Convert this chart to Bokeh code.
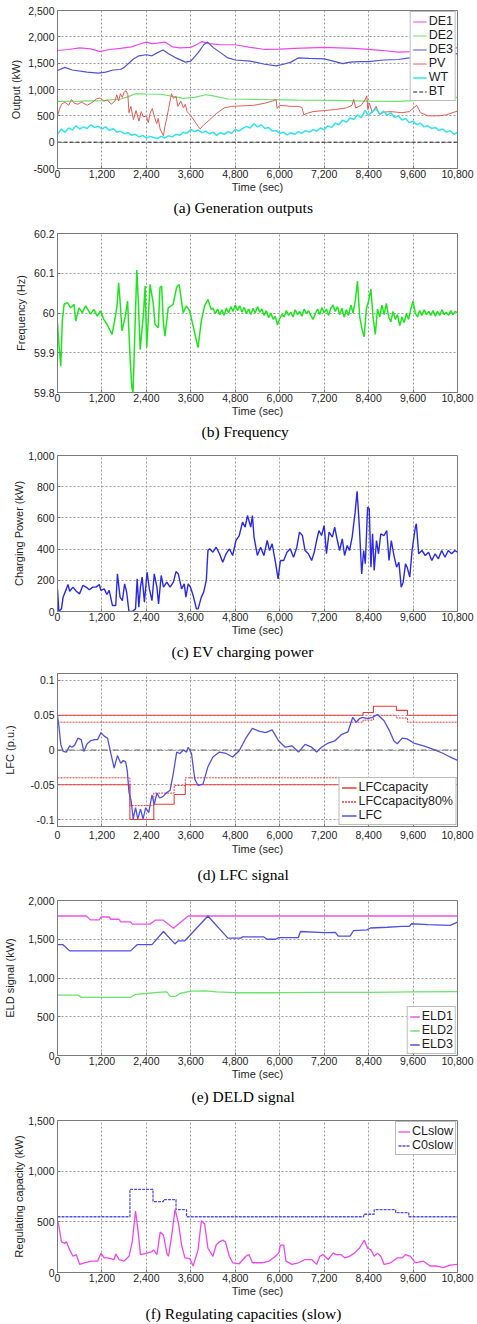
from bokeh.plotting import figure
from bokeh.layouts import column
from bokeh.models import FixedTicker, NumeralTickFormatter, Title, Range1d, Span
from bokeh.embed import file_html
from bokeh.resources import INLINE

# ---------------- data ----------------
X_TICKS = [0, 1200, 2400, 3600, 4800, 6000, 7200, 8400, 9600, 10800]

# (a) generation outputs
DE1_T = [0, 300, 600, 900, 1150, 1400, 1700, 2000, 2200, 2400, 2550, 2700, 2900, 3100, 3300, 3600, 3750, 3900, 4100,
         4400, 4800, 5200, 5600, 6000, 6400, 6800, 7200, 7600, 8000, 8400, 8800, 9200, 9600, 9900, 10200, 10500, 10800]
DE1_V = [1740, 1760, 1790, 1770, 1720, 1760, 1780, 1810, 1860, 1900, 1870, 1880, 1900, 1810, 1790, 1800, 1850, 1910,
         1870, 1850, 1850, 1800, 1760, 1765, 1780, 1790, 1800, 1790, 1780, 1760, 1740, 1710, 1720, 1760, 1780, 1780, 1790]
DE2_T = [0, 600, 1200, 1700, 1900, 2100, 2400, 2800, 3100, 3400, 3700, 4000, 4200, 4600, 5500, 6500, 7500, 8400, 9200,
         9600, 10200, 10800]
DE2_V = [775, 780, 790, 820, 860, 920, 915, 910, 870, 830, 850, 900, 880, 820, 810, 800, 795, 780, 775, 790, 810, 850]
DE3_T = [0, 200, 400, 800, 1100, 1300, 1500, 1700, 1800, 2050, 2200, 2400, 2550, 2700, 2850, 3000, 3200, 3450, 3600,
         3800, 3950, 4050, 4200, 4400, 4600, 4800, 5200, 5600, 5900, 6100, 6300, 6500, 6800, 7200, 7500, 7700, 7900,
         8200, 8400, 8800, 9200, 9500, 9700, 10000, 10500, 10800]
DE3_V = [1360, 1420, 1370, 1330, 1310, 1330, 1370, 1380, 1420, 1580, 1640, 1660, 1640, 1700, 1750, 1680, 1600, 1520,
         1540, 1700, 1850, 1900, 1800, 1700, 1600, 1560, 1540, 1480, 1450, 1480, 1520, 1600, 1590, 1580, 1530, 1490,
         1520, 1530, 1530, 1560, 1570, 1600, 1630, 1640, 1660, 1680]
PV_T = [0, 50, 110, 200, 300, 380, 450, 550, 650, 800, 950, 1050, 1150, 1250, 1350, 1450, 1550, 1600, 1650, 1700,
        1750, 1800, 1850, 1900, 1930, 1980, 2050, 2120, 2200, 2260, 2320, 2400, 2450, 2500, 2560, 2620, 2680, 2720,
        2770, 2820, 2860, 2900, 2950, 3000, 3040, 3080, 3130, 3200, 3250, 3330, 3400, 3450, 3500, 3600, 3700, 3800,
        3850, 3950, 4100, 4300, 4500, 4700, 5000, 5300, 5600, 5800, 5900, 5930, 6000, 6300, 6500, 6600, 6650, 6750,
        6900, 7200, 7500, 7800, 7950, 8000, 8050, 8200, 8300, 8350, 8380, 8420, 8500, 8600, 8700, 8800, 9000, 9300,
        9500, 9600, 9700, 9800, 10000, 10300, 10500, 10800]
PV_V = [500, 620, 720, 760, 700, 810, 740, 720, 760, 700, 760, 820, 840, 780, 800, 720, 780, 900, 780, 920,
        850, 950, 980, 900, 560, 680, 430, 600, 400, 580, 480, 500, 370, 550, 640, 470, 350, 450, 250, 180,
        120, 300, 450, 640, 780, 920, 830, 870, 680, 780, 650, 720, 580, 500, 400, 300, 250, 330, 420, 550,
        650, 680, 690, 700, 740, 780, 810, 640, 700, 680, 680, 660, 520, 550, 580, 600, 620, 650, 700, 810,
        650, 700, 800, 880, 620, 740, 560, 680, 520, 570, 580, 560, 580, 640, 700, 560, 500, 500, 520, 590]
WT_T = list(range(0, 10801, 100))
WT_V = [150, 250, 190, 270, 230, 310, 250, 290, 260, 330, 280,
        300, 250, 290, 220, 260, 190, 210, 160, 180, 130,
        150, 100, 130, 80, 110, 90, 70, 110, 80, 120,
        100, 150, 130, 190, 170, 240, 200, 230, 180, 210,
        160, 190, 130, 180, 150, 200, 170, 240, 210, 260,
        300, 270, 350, 290, 330, 260, 280, 210, 220, 170,
        190, 140, 180, 150, 200, 170, 220, 190, 240, 210,
        270, 240, 310, 280, 360, 330, 420, 380, 460, 430,
        520, 460, 600, 510, 580, 640, 530, 590, 510, 560,
        470, 500, 420, 450, 370, 400, 330, 360, 290, 310,
        260, 280, 220, 250, 190, 220, 150, 180]
BT_T = [0, 10800]
BT_V = [0, 0]

# (b) frequency
FREQ_T_EARLY = [0, 30, 89, 130, 179, 268, 357, 446, 491, 580, 669, 759, 893, 982, 1071, 1160, 1250, 1339, 1473, 1560,
                1607, 1651, 1696, 1741, 1830, 1892, 1964, 2008, 2040, 2098, 2142, 2187, 2232, 2321, 2365, 2410, 2499,
                2589, 2633, 2722, 2767, 2812, 2856, 2901, 2990, 3124, 3214, 3285, 3392, 3481, 3570, 3704, 3794, 3883,
                3972, 4061, 4151]
FREQ_V_EARLY = [59.976, 59.93, 59.866, 59.98, 60.022, 60.026, 60.013, 60.022, 59.980, 60.013,
                60.001, 60.018, 59.997, 60.009, 59.992, 60.005, 59.984, 59.971, 59.946, 59.99,
                60.018, 60.076, 60.022, 59.955, 59.992, 60.030, 59.879, 59.812, 59.80, 59.980,
                60.108, 60.022, 59.908, 59.997, 60.068, 59.913, 60.072, 60.022, 59.971, 59.963,
                60.064, 60.068, 59.980, 59.942, 60.013, 60.022, 60.064, 60.072, 60.001, 60.018,
                60.005, 59.950, 59.913, 59.980, 60.018, 60.034, 60.009]
FREQ_T_LATE = list(range(4200, 10801, 60))
FREQ_V_LATE = [60.012, 59.998, 60.010, 59.996, 60.008, 59.994, 60.012, 60.000, 60.016, 60.004, 60.020,
               60.006, 60.018, 60.002, 60.014, 59.998, 60.010, 59.996, 60.012, 60.000, 60.016, 60.002,
               60.010, 59.994, 60.006, 59.988, 60.000, 59.984, 59.992, 59.970, 59.986, 59.996, 59.990,
               60.006, 59.994, 60.002, 59.990, 60.008, 59.996, 60.004, 59.992, 60.010, 59.998, 60.006,
               59.994, 59.984, 59.998, 60.010, 59.996, 60.014, 60.000, 60.010, 59.994, 60.012, 60.020,
               60.004, 60.016, 59.996, 60.012, 59.990, 60.008, 59.994, 60.020, 60.000, 60.030, 60.080,
               59.990, 59.960, 59.940, 60.010, 60.030, 60.060, 59.990, 59.946, 60.010, 59.990, 60.020,
               59.996, 60.024, 59.990, 59.978, 60.004, 59.984, 59.996, 59.968, 59.990, 59.976, 59.998,
               59.984, 60.010, 60.030, 60.000, 59.990, 60.006, 59.994, 60.008, 59.996, 60.004, 59.994,
               60.006, 59.992, 60.004, 59.994, 60.008, 59.996, 60.002, 59.994, 60.006, 59.996, 60.004,
               60.000]

# (c) EV charging power
EV_T = [0, 36, 107, 151, 240, 284, 329, 418, 507, 596, 684, 773, 862, 951, 1040, 1129, 1173, 1262, 1333, 1396,
        1484, 1573, 1618, 1689, 1751, 1813, 1867, 1929, 2018, 2107, 2151, 2196, 2240, 2285, 2347, 2418, 2480, 2551,
        2613, 2684, 2729, 2800, 2862, 2951, 3040, 3129, 3200, 3262, 3351, 3422, 3467, 3529, 3591, 3662, 3751, 3796,
        3884, 3947, 4018, 4062, 4107, 4196, 4284, 4373, 4462, 4551, 4640, 4729, 4818, 4907, 4996, 5067, 5129, 5218,
        5262, 5307, 5396, 5484, 5573, 5662, 5724, 5796, 5884, 5956, 6018, 6107, 6196, 6284, 6373, 6462, 6533, 6613,
        6684, 6773, 6862, 6933, 6996, 7058, 7129, 7200, 7262, 7333, 7422, 7484, 7556, 7618, 7689, 7751, 7822, 7884,
        7956, 8036, 8089, 8151, 8213, 8267, 8311, 8373, 8418, 8462, 8507, 8551, 8613, 8667, 8729, 8818, 8889, 8951,
        9013, 9084, 9156, 9218, 9280, 9333, 9396, 9440, 9511, 9573, 9662, 9689, 9751, 9840, 9929, 10018, 10107,
        10196, 10284, 10373, 10462, 10551, 10640, 10729, 10800]
EV_V = [145, 0, 17, 92, 145, 173, 130, 156, 130, 113, 167, 156, 139, 156, 156, 173, 135, 145, 109, 135,
        38, 38, 241, 92, 70, 177, 124, 0, 0, 17, 209, 28, 156, 220, 60, 252, 145, 70, 241, 156,
        49, 231, 156, 188, 156, 188, 256, 241, 145, 177, 92, 177, 156, 103, 17, 17, 92, 124, 199, 391,
        402, 380, 412, 370, 316, 370, 402, 359, 455, 487, 573, 541, 615, 541, 615, 477, 359, 412, 359, 455,
        391, 434, 316, 209, 327, 327, 380, 402, 348, 412, 509, 487, 391, 370, 327, 380, 455, 519, 487, 551,
        370, 509, 477, 541, 455, 391, 466, 359, 423, 391, 477, 637, 770, 541, 241, 391, 306, 669, 658, 284,
        498, 263, 455, 370, 498, 487, 519, 327, 455, 359, 284, 316, 156, 188, 306, 284, 220, 391, 541, 562,
        370, 391, 359, 380, 327, 370, 338, 391, 348, 391, 370, 391, 380]

# (d) LFC signal
CAP_UP_T = [0, 8250, 8530, 9150, 9450, 10800]
CAP_UP_V = [0.05, 0.054, 0.063, 0.057, 0.05, 0.05]
CAP80_UP_V = [0.04, 0.043, 0.050, 0.046, 0.04, 0.04]
CAP_LO_T = [0, 1955, 2600, 3150, 3450, 10800]
CAP_LO_V = [-0.05, -0.10, -0.078, -0.064, -0.05, -0.05]
CAP80_LO_V = [-0.04, -0.08, -0.062, -0.051, -0.04, -0.04]
LFC_T = [0, 36, 89, 151, 240, 329, 391, 462, 551, 640, 711, 800, 889, 996, 1084, 1173, 1262, 1351, 1440, 1529,
         1618, 1707, 1778, 1840, 1884, 1929, 1991, 2044, 2107, 2169, 2240, 2311, 2382, 2462, 2551, 2613, 2684, 2756,
         2844, 2933, 3040, 3129, 3218, 3307, 3396, 3484, 3529, 3618, 3707, 3796, 3929, 4062, 4196, 4373, 4551, 4729,
         4907, 5084, 5262, 5440, 5618, 5796, 5973, 6151, 6329, 6507, 6684, 6862, 6996, 7129, 7307, 7484, 7662, 7840,
         7973, 8062, 8151, 8240, 8373, 8507, 8640, 8818, 8951, 9084, 9173, 9307, 9440, 9618, 9884, 10151, 10418,
         10596, 10800]
LFC_V = [0.049, 0.035, 0.008, -0.002, -0.003, 0.006, 0.004, 0.007, 0.017, 0.015,
         -0.002, 0.009, 0.013, 0.015, 0.015, 0.025, 0.020, 0.017, -0.005, -0.026,
         -0.008, -0.019, -0.015, -0.017, -0.030, -0.060, -0.074, -0.099, -0.083, -0.099,
         -0.085, -0.099, -0.083, -0.090, -0.065, -0.078, -0.062, -0.069, -0.067, -0.062,
         -0.058, -0.033, -0.003, -0.005, 0.000, -0.003, 0.004, -0.005, -0.042, -0.051,
         -0.049, -0.024, -0.010, -0.003, -0.005, -0.010, -0.001, 0.017, 0.031, 0.027,
         0.025, 0.029, 0.013, 0.004, 0.006, -0.003, 0.008, 0.004, -0.003, 0.004,
         0.010, 0.013, 0.022, 0.026, 0.047, 0.040, 0.045, 0.047, 0.045, 0.047,
         0.051, 0.042, 0.029, 0.013, 0.009, 0.017, 0.016, 0.010, 0.006, 0.001,
         -0.005, -0.010, -0.015]

# (e) DELD signal
ELD1_T = [0, 780, 890, 1130, 1175, 1395, 1440, 1660, 1710, 1970, 2020, 2500, 2640, 2860, 3130, 3530, 10800]
ELD1_V = [1800, 1800, 1750, 1750, 1787, 1787, 1758, 1758, 1724, 1724, 1695, 1695, 1746, 1746, 1641, 1800, 1800]
ELD2_T = [0, 550, 640, 1970, 2100, 2400, 2700, 2950, 3050, 3200, 3300, 3600, 4000, 4300, 4800, 6000, 7200, 8400,
          9600, 10800]
ELD2_V = [780, 780, 750, 750, 790, 800, 815, 820, 760, 765, 800, 830, 835, 820, 810, 810, 815, 815, 820, 825]
ELD3_T = [0, 150, 330, 1970, 2150, 2550, 2860, 3170, 3260, 3440, 4060, 4600, 4950, 5000, 5570, 5660, 5890, 5970,
          6500, 6560, 7200, 7500, 7580, 7900, 7990, 8350, 8450, 8900, 9300, 9500, 9560, 10000, 10600, 10800]
ELD3_V = [1430, 1430, 1350, 1350, 1430, 1430, 1600, 1440, 1480, 1480, 1800, 1515, 1515, 1530, 1530, 1500, 1500,
          1520, 1520, 1600, 1585, 1590, 1540, 1540, 1610, 1620, 1645, 1655, 1665, 1665, 1700, 1690, 1680, 1720]

# (f) regulating capacities (slow)
CL_T = [0, 36, 107, 196, 240, 329, 418, 507, 596, 729, 907, 1084, 1173, 1262, 1351, 1529, 1573, 1662, 1796, 1929,
        2018, 2107, 2169, 2240, 2418, 2551, 2596, 2684, 2773, 2862, 2951, 2996, 3084, 3173, 3262, 3351, 3440, 3573,
        3662, 3796, 3884, 3973, 4062, 4196, 4284, 4373, 4462, 4533, 4640, 4729, 4907, 5084, 5173, 5262, 5529, 5707,
        5884, 5973, 6018, 6107, 6169, 6329, 6507, 6684, 6862, 6996, 7084, 7173, 7307, 7440, 7529, 7662, 7751, 7884,
        8018, 8151, 8284, 8373, 8462, 8551, 8640, 8729, 8818, 8996, 9173, 9307, 9396, 9529, 9662, 9884, 10062,
        10240, 10418, 10596, 10800]
CL_V = [511, 463, 303, 287, 303, 223, 160, 176, 80, 96, 112, 112, 191, 144, 144, 128, 182, 128, 112, 160,
        303, 606, 431, 176, 191, 207, 223, 176, 399, 367, 191, 160, 367, 622, 495, 271, 144, 137, 64, 223,
        511, 479, 239, 160, 271, 303, 319, 303, 160, 96, 86, 160, 176, 96, 96, 112, 160, 191, 271, 271,
        112, 80, 96, 128, 128, 80, 160, 176, 128, 191, 176, 176, 144, 160, 191, 239, 319, 239, 223, 160,
        191, 160, 80, 96, 144, 144, 176, 160, 96, 112, 64, 64, 48, 73, 80]
C0_T = [0, 1956, 2578, 2862, 3200, 3484, 8267, 8551, 9129, 9484, 10800]
C0_V = [550, 820, 700, 720, 620, 550, 575, 620, 590, 550, 550]

# ---------------- styling helpers ----------------
SANS = "Liberation Sans"
SERIF = "Liberation Serif"
TXT = "#1e1e1e"
FRAME = "#7a7a7a"
GRID = "#9a9a9a"


def make_panel(height, top, bottom, y_lo, y_hi, y_ticks, y_fmt, y_label, caption,
               ylab_standoff, tick_standoff, xlab_standoff, cap_standoff, cap_offset,
               left=56, right=16):
    p = figure(width=477, height=height, output_backend="svg", toolbar_location=None,
               x_range=Range1d(0, 10800), y_range=Range1d(y_lo, y_hi),
               min_border_left=left, min_border_right=right,
               min_border_top=top, min_border_bottom=bottom)
    p.background_fill_color = "white"
    p.border_fill_color = "white"
    p.outline_line_color = FRAME
    p.outline_line_width = 1
    xa = p.xaxis[0]
    ya = p.yaxis[0]
    xa.ticker = FixedTicker(ticks=X_TICKS)
    xa.formatter = NumeralTickFormatter(format="0,0")
    ya.ticker = FixedTicker(ticks=y_ticks)
    ya.formatter = NumeralTickFormatter(format=y_fmt)
    for ax in (xa, ya):
        ax.major_tick_in = 3
        ax.major_tick_out = 0
        ax.minor_tick_line_color = None
        ax.axis_line_color = FRAME
        ax.major_tick_line_color = FRAME
        ax.major_label_text_font = SANS
        ax.major_label_text_font_size = "10.5px"
        ax.major_label_text_color = TXT
        ax.axis_label_text_font = SANS
        ax.axis_label_text_font_size = "11px"
        ax.axis_label_text_font_style = "normal"
        ax.axis_label_text_color = TXT
    xa.axis_label = "Time (sec)"
    xa.major_label_standoff = tick_standoff
    xa.axis_label_standoff = xlab_standoff
    ya.axis_label = y_label
    ya.major_label_standoff = 3
    ya.axis_label_standoff = ylab_standoff
    p.xgrid.ticker = FixedTicker(ticks=X_TICKS)
    p.ygrid.ticker = FixedTicker(ticks=y_ticks)
    p.xgrid.grid_line_color = GRID
    p.ygrid.grid_line_color = GRID
    p.xgrid.grid_line_dash = "2 2"
    p.ygrid.grid_line_dash = "2 2"
    cap = Title(text=caption, align="left", text_font=SERIF, text_font_size="15.5px",
                text_font_style="normal", text_color="black", standoff=cap_standoff, offset=cap_offset)
    p.add_layout(cap, "below")
    return p


def style_legend(p, loc, glyph_w, font_size="12.5px"):
    lg = p.legend[0]
    lg.location = loc
    lg.margin = 1
    lg.padding = 2
    lg.spacing = -3
    lg.glyph_height = 11
    lg.label_height = 11
    lg.glyph_width = glyph_w
    lg.label_width = 10
    lg.label_standoff = 2
    lg.label_text_font = SANS
    lg.label_text_font_size = font_size
    lg.label_text_color = TXT
    lg.border_line_color = FRAME
    lg.background_fill_alpha = 1.0


# (a)
pa = make_panel(222, 10, 54, -500, 2500, [-500, 0, 500, 1000, 1500, 2000, 2500], "0,0", "Output (kW)",
                "(a) Generation outputs", 3, 1, 0, 2, 116)
pa.line(DE1_T, DE1_V, color="#f046f0", line_width=1.2, legend_label="DE1")
pa.line(DE2_T, DE2_V, color="#6ae46a", line_width=1.2, legend_label="DE2")
pa.line(DE3_T, DE3_V, color="#5050e0", line_width=1.2, legend_label="DE3")
pa.line(PV_T, PV_V, color="#e85a55", line_width=1.0, legend_label="PV")
pa.line(WT_T, WT_V, color="#30e4ee", line_width=1.5, legend_label="WT")
pa.line(BT_T, BT_V, color="#222222", line_width=1.0, line_dash="4 2", legend_label="BT")
style_legend(pa, "top_right", 14)

# (b)
pb = make_panel(220, 11, 50, 59.8, 60.2, [59.8, 59.9, 60.0, 60.1, 60.2], "0.[0]", "Frequency (Hz)",
                "(b) Frequency", 4, 1, 0, 2, 144, left=54, right=20)
pb.line(FREQ_T_EARLY + FREQ_T_LATE, FREQ_V_EARLY + FREQ_V_LATE, color="#1ee61e", line_width=1.5)

# (c)
pc = make_panel(220, 13, 51, 0, 1000, [0, 200, 400, 600, 800, 1000], "0,0", "Charging Power (kW)",
                "(c) EV charging power", 0, 1, 0, 4, 114)
pc.line(EV_T, EV_V, color="#2a2ae6", line_width=1.4)

# (d)
pd_ = make_panel(226, 11, 56, -0.11, 0.11, [-0.1, -0.05, 0, 0.05, 0.1], "0.[00]", "LFC (p.u.)",
                 "(d) LFC signal", 12, 4, 1, 12, 140)
pd_.add_layout(Span(location=0, dimension="width", line_color="#666666", line_dash="6 2 1 2", line_width=1))
pd_.step(CAP_UP_T, CAP_UP_V, mode="after", color="#ee3a3a", line_width=1.1, legend_label="LFCcapacity")
pd_.step(CAP_LO_T, CAP_LO_V, mode="after", color="#ee3a3a", line_width=1.1, legend_label="LFCcapacity")
pd_.step(CAP_UP_T, CAP80_UP_V, mode="after", color="#ee3a3a", line_width=1.0, line_dash="2 1",
         legend_label="LFCcapacity80%")
pd_.step(CAP_LO_T, CAP80_LO_V, mode="after", color="#ee3a3a", line_width=1.0, line_dash="2 1",
         legend_label="LFCcapacity80%")
pd_.line(LFC_T, LFC_V, color="#5050e6", line_width=1.3, legend_label="LFC")
style_legend(pd_, "bottom_right", 15)

# (e)
pe = make_panel(220, 12, 48, 0, 2000, [0, 500, 1000, 1500, 2000], "0,0", "ELD signal (kW)",
                "(e) DELD signal", 9, 1, 0, 7, 134)
pe.line(ELD1_T, ELD1_V, color="#f050f0", line_width=1.3, legend_label="ELD1")
pe.line(ELD2_T, ELD2_V, color="#6ae46a", line_width=1.3, legend_label="ELD2")
pe.line(ELD3_T, ELD3_V, color="#5050e0", line_width=1.3, legend_label="ELD3")
style_legend(pe, "bottom_right", 10)

# (f)
pf = make_panel(216, 12, 46, 0, 1500, [0, 500, 1000, 1500], "0,0", "Regulating capacity (kW)",
                "(f) Regulating capacities (slow)", 0, 1, 0, 6, 88)
pf.line(CL_T, CL_V, color="#f046f0", line_width=1.3, legend_label="CLslow")
pf.step(C0_T, C0_V, mode="after", color="#5050e6", line_width=1.3, line_dash="3 1", legend_label="C0slow")
style_legend(pf, "top_right", 12)

layout = column(pa, pb, pc, pd_, pe, pf, spacing=0)
open("out.html", "w").write(file_html(layout, INLINE))
